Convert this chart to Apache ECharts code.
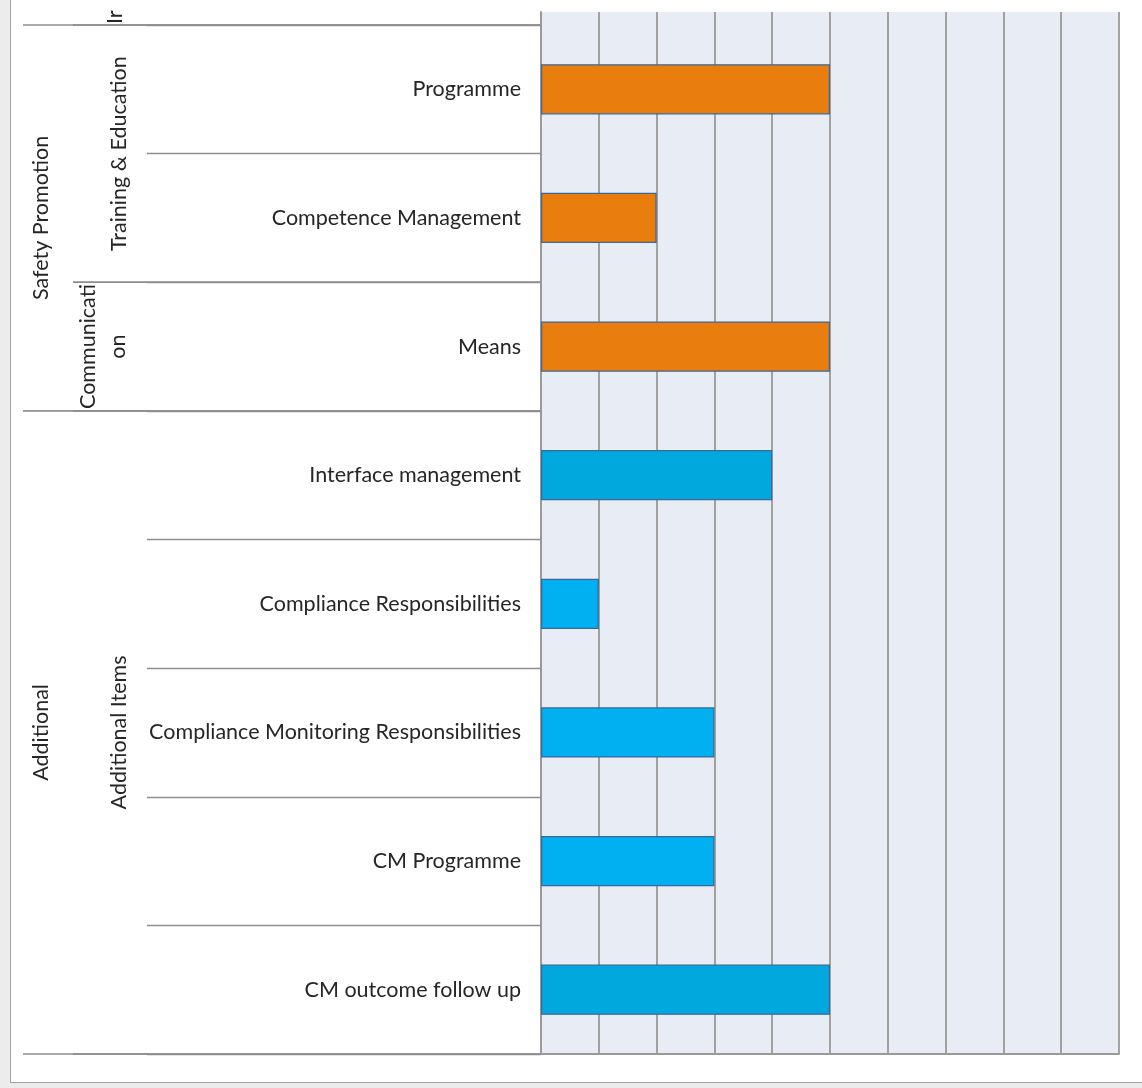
<!DOCTYPE html>
<html>
<head>
<meta charset="utf-8">
<title>Safety management assessment scores</title>
<script src="https://cdn.jsdelivr.net/npm/echarts@6/dist/echarts.min.js"></script>
<style>
  html, body { margin: 0; padding: 0; background: #ececec; }
  #frame {
    position: absolute; left: 10px; top: -10px; width: 1200px; height: 1093px;
    background: #ffffff; border: 1.5px solid #a3a3a3; box-sizing: border-box;
  }
  #chart { position: absolute; left: 0; top: 0; width: 1142px; height: 1088px; }
</style>
</head>
<body>
<div id="frame"></div>
<div id="chart"></div>
<script>
// Leaf items, top to bottom
const items = [
  'Programme',
  'Competence Management',
  'Means',
  'Interface management',
  'Compliance Responsibilities',
  'Compliance Monitoring Responsibilities',
  'CM Programme',
  'CM outcome follow up'
];
// Score for each item (0–10 scale)
const scores = [5, 2, 5, 4, 1, 3, 3, 5];

// Outer grouping: [label, first item index, last item index]
const areas = [
  ['Safety Promotion', 0, 2],
  ['Additional', 3, 7]
];
// Inner grouping
const topics = [
  ['Training & Education', 0, 1],
  ['Communication', 2, 2],
  ['Additional Items', 3, 7]
];

const scaleMax = 10;
const scaleStep = 1;

// Bar fill per item
const fills = ['#e97e0e', '#e97e0e', '#e97e0e', '#00a8de', '#00b0f0', '#00b0f0', '#00b0f0', '#00a8de'];

const FONT = 'Lato';
const FONT_SIZE = 21.5;
const TEXT = '#262626';
const LINE = '#8e8e8e';
const GRID_LINE = '#999999';
const PLOT_BG = '#e8ecf4';

const chart = echarts.init(document.getElementById('chart'), null, { renderer: 'canvas' });

const valueAxisBase = {
  type: 'value',
  min: 0,
  max: scaleMax,
  interval: scaleStep,
  axisLabel: { show: false },
  axisTick: { show: false },
  splitLine: { show: true, lineStyle: { color: GRID_LINE, width: 1.8 } }
};

chart.setOption({
  backgroundColor: 'transparent',
  animation: false,
  grid: [
    { left: 541, right: 23, top: 25, bottom: 34, show: true, backgroundColor: PLOT_BG, borderWidth: 0 },
    // thin strip of the plot continuing above the first row
    { left: 541, right: 23, top: 12, height: 13, show: true, backgroundColor: PLOT_BG, borderWidth: 0 }
  ],
  xAxis: [
    Object.assign({}, valueAxisBase, {
      gridIndex: 0,
      axisLine: { show: true, lineStyle: { color: GRID_LINE, width: 1.8 } }
    }),
    Object.assign({}, valueAxisBase, {
      gridIndex: 1,
      axisLine: { show: false }
    })
  ],
  yAxis: [
    {
      type: 'category',
      gridIndex: 0,
      inverse: true,
      data: items,
      axisLine: { show: true, lineStyle: { color: GRID_LINE, width: 1.8 } },
      axisTick: { show: true, length: 394, lineStyle: { color: LINE, width: 1.4 } },
      axisLabel: { margin: 20, fontFamily: FONT, fontSize: FONT_SIZE, color: TEXT }
    },
    {
      type: 'value',
      gridIndex: 1,
      axisLine: { show: true, lineStyle: { color: GRID_LINE, width: 1.8 } },
      axisTick: { show: false },
      axisLabel: { show: false },
      splitLine: { show: false }
    }
  ],
  series: [{
    type: 'bar',
    xAxisIndex: 0,
    yAxisIndex: 0,
    barWidth: '39%',
    data: scores.map((v, i) => ({
      value: v,
      itemStyle: { color: fills[i], borderColor: '#3a679c', borderWidth: 1.2 }
    }))
  }]
});

// Group labels and separators on the category side
function drawGroups() {
  const y0 = chart.convertToPixel({ yAxisIndex: 0 }, 0);
  const y1 = chart.convertToPixel({ yAxisIndex: 0 }, 1);
  const half = (y1 - y0) / 2;
  const top = i => chart.convertToPixel({ yAxisIndex: 0 }, i) - half;
  const bottom = i => chart.convertToPixel({ yAxisIndex: 0 }, i) + half;
  const axisX = chart.convertToPixel({ xAxisIndex: 0 }, 0);

  const els = [];
  const hline = (x, y) => els.push({
    type: 'line', silent: true,
    shape: { x1: x, y1: y, x2: axisX, y2: y },
    style: { stroke: LINE, lineWidth: 1.4 }
  });
  const vtext = (text, x, y, align) => els.push({
    type: 'text', silent: true, x: x, y: y, rotation: Math.PI / 2,
    style: {
      text: text, fontFamily: FONT, fontSize: FONT_SIZE, fill: TEXT,
      align: align || 'center', verticalAlign: 'middle'
    }
  });

  areas.forEach(([name, a, b]) => {
    hline(23, top(a));
    hline(23, bottom(b));
    vtext(name, 41, (top(a) + bottom(b)) / 2);
  });
  topics.forEach(([name, a, b]) => {
    hline(73, top(a));
    hline(73, bottom(b));
    const cy = (top(a) + bottom(b)) / 2;
    if (name === 'Communication') {
      // too long for a single row: wrapped in two lines
      vtext('Communicati', 88, cy);
      vtext('on', 118, cy);
    } else {
      vtext(name, 119, cy);
    }
  });
  // tail of the label belonging to the rows above
  vtext('Ir', 115, top(0) - 1, 'left');

  chart.setOption({ graphic: { elements: els } });
}
drawGroups();
</script>
</body>
</html>
